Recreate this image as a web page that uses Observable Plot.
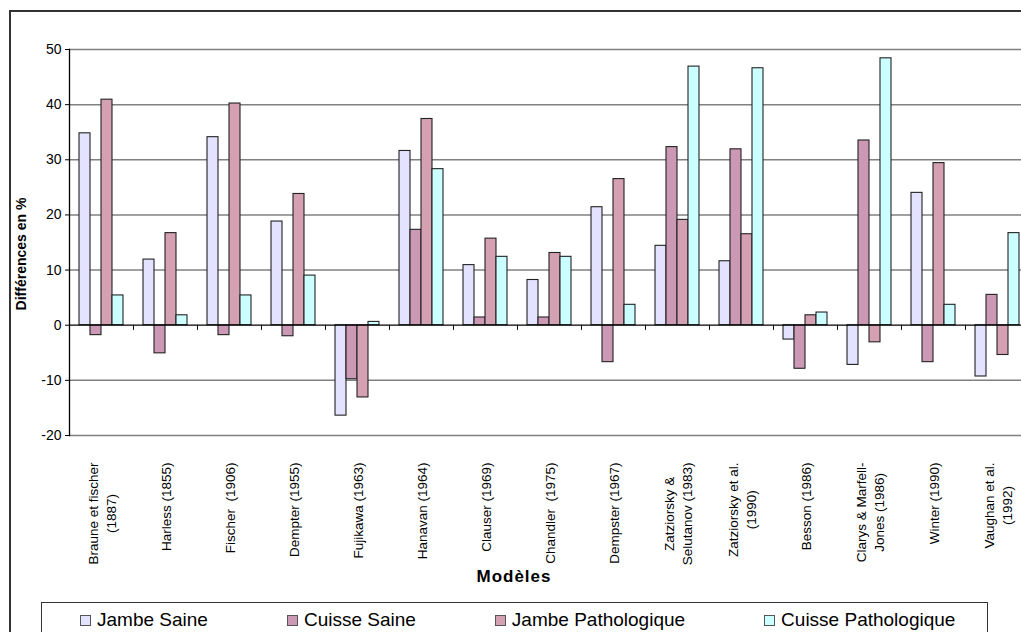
<!DOCTYPE html>
<html>
<head>
<meta charset="utf-8">
<script src="https://cdn.jsdelivr.net/npm/d3@7"></script>
<script src="https://cdn.jsdelivr.net/npm/@observablehq/plot@0.6"></script>
<style>
  html, body { margin: 0; padding: 0; background: #fff; overflow: hidden; }
  #page { position: relative; width: 1021px; height: 632px; overflow: hidden; font-family: 'Liberation Sans', Arial, sans-serif; background: #fff; }
  #chart { position: absolute; left: 0; top: 0; width: 1035px; }
  #chart svg { max-width: none !important; }
  #outer { position: absolute; left: 9px; top: 10px; width: 1100px; height: 700px; border: 2px solid #333; box-sizing: border-box; }
  #ytitle { position: absolute; left: 21px; top: 254px; transform: translate(-50%, -50%) rotate(-90deg); font-weight: bold; font-size: 14px; white-space: nowrap; color: #000; }
  #xtitle { position: absolute; left: 514px; top: 577px; transform: translate(-50%, -50%); font-weight: bold; font-size: 17px; letter-spacing: 1px; white-space: nowrap; color: #000; }
  #legend { position: absolute; left: 41px; top: 602px; width: 947px; height: 60px; border: 1px solid #333; box-sizing: border-box; display: flex; align-items: flex-start; padding-left: 38px; padding-top: 6px; gap: 79px; font-size: 19px; background: #fff; }
  .item { display: flex; align-items: center; gap: 6px; white-space: nowrap; line-height: 22px; }
  .sw { width: 11px; height: 11px; border: 1px solid #555; box-sizing: border-box; }
</style>
</head>
<body>
<div id="page">
  <div id="outer"></div>
  <div id="chart"></div>
  <div id="ytitle">Différences en %</div>
  <div id="xtitle">Modèles</div>
  <div id="legend"></div>
</div>
<script>
// ---- data ----
const categories = [
  "Braune et fischer\n(1887)",
  "Harless (1855)",
  "Fischer  (1906)",
  "Dempter (1955)",
  "Fujikawa (1963)",
  "Hanavan (1964)",
  "Clauser (1969)",
  "Chandler  (1975)",
  "Dempster (1967)",
  "Zatziorsky &\nSelutanov (1983)",
  "Zatziorsky et al.\n(1990)",
  "Besson (1986)",
  "Clarys & Marfell-\nJones (1986)",
  "Winter (1990)",
  "Vaughan et al.\n(1992)"
];
const series = ["Jambe Saine", "Cuisse Saine", "Jambe Pathologique", "Cuisse Pathologique"];
const jambeSaine   = [34.8, 11.9, 34.1, 18.8, -16.4, 31.6, 10.9,  8.2, 21.4, 14.4, 11.6, -2.6, -7.2, 24.0, -9.3];
const cuisseSaine  = [-1.8, -5.1, -1.8, -2.0,  -9.8, 17.3,  1.4,  1.4, -6.7, 32.3, 31.9, -7.9, 33.5, -6.7,  5.5];
const jambePatho   = [40.9, 16.7, 40.2, 23.8, -13.1, 37.4, 15.7, 13.1, 26.5, 19.1, 16.5,  1.8, -3.1, 29.4, -5.4];
const cuissePatho  = [ 5.4,  1.8,  5.4,  9.0,   0.6, 28.3, 12.4, 12.4,  3.7, 46.9, 46.6,  2.3, 48.4,  3.7, 16.7];
const colors = ["#E3E3FF", "#CC99B5", "#D3A1B1", "#CCFFFF"];
const yTicks = [-20, -10, 0, 10, 20, 30, 40, 50];

const valuesBySeries = [jambeSaine, cuisseSaine, jambePatho, cuissePatho];
const rows = [];
categories.forEach((c, i) => {
  series.forEach((s, j) => rows.push({cat: c, series: s, value: valuesBySeries[j][i]}));
});

const chart = Plot.plot({
  width: 1035,
  height: 590,
  marginLeft: 63,
  marginRight: 0,
  marginTop: 49,
  marginBottom: 155,
  style: {fontFamily: "'Liberation Sans', Arial, sans-serif", fontSize: "14px", background: "transparent", color: "#000", overflow: "visible", maxWidth: "none"},
  fx: {domain: categories, paddingInner: 0, paddingOuter: 0, axis: null},
  x: {domain: series, paddingInner: 0, paddingOuter: 0.758, axis: null},
  y: {domain: [-20, 50], ticks: yTicks, tickSize: 4, tickPadding: 4, tickFormat: d => String(d), label: null},
  color: {domain: series, range: colors},
  marks: [
    Plot.ruleY(yTicks.filter(d => d !== 0), {stroke: "#808080", strokeWidth: 1.5}),
    Plot.barY(rows, {fx: "cat", x: "series", y: "value", fill: "series", stroke: "#222", strokeWidth: 1.1}),
    Plot.ruleY([0], {stroke: "#000", strokeWidth: 1.3}),
    Plot.vector([0], {y: d => d, frameAnchor: "left", length: 4, rotate: 180, anchor: "start", r: 0, stroke: "#000", strokeWidth: 1}),
    Plot.frame({anchor: "left", facetAnchor: "left", stroke: "#000", strokeWidth: 1.3}),
    Plot.text(categories, {fx: d => d, text: d => d, frameAnchor: "bottom", rotate: -90, textAnchor: "end", lineAnchor: "middle", lineHeight: 1.3, dy: 27, fontSize: 13.5, fill: "#000"})
  ]
});
document.getElementById("chart").appendChild(chart);

// center shorter lines of multi-line labels relative to the longest line
chart.querySelectorAll("text").forEach(t => {
  const spans = t.querySelectorAll("tspan");
  if (spans.length > 1) {
    const lens = Array.from(spans, s => s.getComputedTextLength());
    const m = Math.max(...lens);
    spans.forEach((s, k) => s.setAttribute("x", -(m - lens[k]) / 2));
  }
});

// legend
const legend = document.getElementById("legend");
series.forEach((s, j) => {
  const it = document.createElement("div");
  it.className = "item";
  const sw = document.createElement("div");
  sw.className = "sw";
  sw.style.background = colors[j];
  const tx = document.createElement("span");
  tx.textContent = s;
  it.appendChild(sw); it.appendChild(tx);
  legend.appendChild(it);
});
</script>
</body>
</html>
